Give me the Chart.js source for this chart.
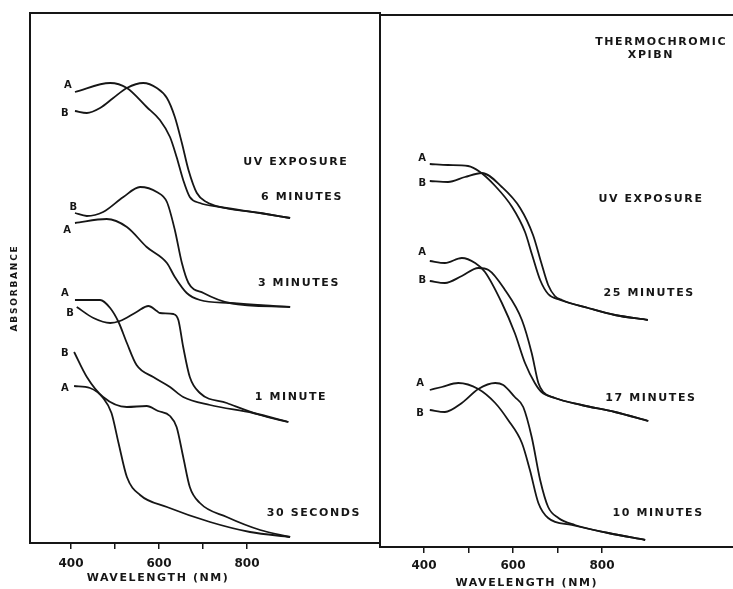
<!DOCTYPE html>
<html>
<head>
<meta charset="utf-8">
<script src="https://cdn.jsdelivr.net/npm/chart.js@4.4.0/dist/chart.umd.min.js"></script>
<style>
  html, body { margin: 0; padding: 0; background: #fff; }
  #wrap { position: relative; width: 733px; height: 589px; overflow: hidden; background: #fff; }
  canvas { position: absolute; top: 0; }
  #left { left: 0; }
  #right { left: 340px; }
</style>
</head>
<body>
<div id="wrap">
  <canvas id="left" width="400" height="589"></canvas>
  <canvas id="right" width="393" height="589"></canvas>
</div>
<script>
// --- Data: wavelength (nm) and absorbance (arbitrary, stacked offsets) ---
const xTicks = [400, 500, 600, 700, 800];
const xTickLabels = ['400', '', '600', '', '800'];

// left panel
const s30A_nm  = [407, 443, 473, 492, 508, 527, 557, 618, 716, 807, 898];
const s30A_abs = [1.57, 1.55, 1.45, 1.30, 1.00, 0.66, 0.48, 0.36, 0.21, 0.11, 0.06];
const s30B_nm  = [407, 436, 473, 527, 572, 598, 625, 640, 655, 670, 693, 754, 830, 898];
const s30B_abs = [1.91, 1.66, 1.46, 1.36, 1.37, 1.32, 1.27, 1.16, 0.86, 0.56, 0.40, 0.26, 0.13, 0.06];

const m1A_nm  = [409, 466, 489, 508, 527, 549, 587, 625, 655, 716, 814, 894];
const m1A_abs = [2.43, 2.43, 2.35, 2.21, 2.00, 1.78, 1.66, 1.56, 1.46, 1.38, 1.30, 1.21];
const m1B_nm  = [413, 451, 489, 511, 549, 576, 595, 602, 633, 644, 655, 670, 693, 754, 830, 894];
const m1B_abs = [2.36, 2.25, 2.20, 2.22, 2.31, 2.37, 2.32, 2.30, 2.29, 2.23, 1.96, 1.66, 1.50, 1.40, 1.28, 1.21];

const m3A_nm  = [409, 481, 527, 572, 618, 636, 663, 693, 761, 898];
const m3A_abs = [3.20, 3.24, 3.16, 2.96, 2.80, 2.66, 2.50, 2.43, 2.40, 2.36];
const m3B_nm  = [409, 436, 473, 519, 557, 595, 618, 636, 652, 667, 701, 761, 898];
const m3B_abs = [3.30, 3.27, 3.31, 3.46, 3.56, 3.51, 3.41, 3.13, 2.80, 2.60, 2.50, 2.40, 2.36];

const m6A_nm  = [409, 489, 527, 572, 602, 625, 640, 655, 670, 693, 739, 830, 898];
const m6A_abs = [4.51, 4.60, 4.55, 4.36, 4.23, 4.06, 3.86, 3.63, 3.46, 3.40, 3.36, 3.30, 3.25];
const m6B_nm  = [409, 436, 466, 496, 527, 564, 595, 618, 636, 652, 667, 686, 708, 739, 830, 898];
const m6B_abs = [4.32, 4.30, 4.35, 4.45, 4.55, 4.60, 4.55, 4.45, 4.26, 4.00, 3.73, 3.50, 3.41, 3.36, 3.30, 3.25];

// right panel
const m10A_nm  = [413, 440, 477, 522, 560, 589, 620, 638, 657, 679, 732, 814, 897];
const m10A_abs = [1.57, 1.60, 1.64, 1.58, 1.44, 1.27, 1.04, 0.77, 0.44, 0.29, 0.22, 0.14, 0.07];
const m10B_nm  = [413, 447, 485, 522, 560, 578, 604, 623, 642, 661, 679, 702, 739, 814, 897];
const m10B_abs = [1.37, 1.35, 1.44, 1.58, 1.64, 1.62, 1.50, 1.40, 1.10, 0.67, 0.40, 0.29, 0.22, 0.14, 0.07];

const m17A_nm  = [413, 447, 485, 515, 537, 575, 604, 627, 649, 664, 694, 754, 829, 904];
const m17A_abs = [2.86, 2.84, 2.89, 2.84, 2.75, 2.44, 2.14, 1.84, 1.64, 1.55, 1.49, 1.42, 1.35, 1.26];
const m17B_nm  = [413, 447, 485, 522, 545, 582, 620, 642, 657, 668, 694, 754, 829, 904];
const m17B_abs = [2.66, 2.64, 2.71, 2.79, 2.77, 2.57, 2.27, 1.94, 1.64, 1.55, 1.49, 1.42, 1.35, 1.26];

const m25A_nm  = [413, 454, 499, 526, 560, 598, 627, 643, 661, 679, 706, 769, 829, 903];
const m25A_abs = [3.83, 3.82, 3.81, 3.75, 3.61, 3.40, 3.15, 2.92, 2.67, 2.53, 2.47, 2.39, 2.32, 2.27];
const m25B_nm  = [413, 454, 492, 530, 575, 616, 645, 663, 679, 694, 710, 769, 829, 903];
const m25B_abs = [3.66, 3.65, 3.70, 3.74, 3.60, 3.39, 3.12, 2.85, 2.62, 2.51, 2.47, 2.39, 2.32, 2.27];

// --- Text labels (placed in data units) ---
const leftNotes = [
  { t: 'UV EXPOSURE', x: 911, y: 3.81 },
  { t: '6 MINUTES', x: 925, y: 3.46 },
  { t: '3 MINUTES', x: 918, y: 2.60 },
  { t: '1 MINUTE', x: 900, y: 1.46 },
  { t: '30 SECONDS', x: 952, y: 0.30 },
  { t: 'A', x: 393, y: 4.58, small: true }, { t: 'B', x: 386, y: 4.30, small: true },
  { t: 'B', x: 405, y: 3.36, small: true }, { t: 'A', x: 391, y: 3.13, small: true },
  { t: 'A', x: 386, y: 2.50, small: true }, { t: 'B', x: 398, y: 2.30, small: true },
  { t: 'B', x: 386, y: 1.90, small: true }, { t: 'A', x: 386, y: 1.55, small: true },
  { t: 'WAVELENGTH (NM)', x: 598, y: -0.35 },
  { t: 'ABSORBANCE', x: 273, y: 2.55, rot: true }
];
const rightNotes = [
  { t: 'THERMOCHROMIC', x: 933, y: 5.05 },
  { t: 'XPIBN', x: 910, y: 4.92 },
  { t: 'UV EXPOSURE', x: 910, y: 3.48 },
  { t: '25 MINUTES', x: 906, y: 2.54 },
  { t: '17 MINUTES', x: 910, y: 1.49 },
  { t: '10 MINUTES', x: 926, y: 0.34 },
  { t: 'A', x: 396, y: 3.89, small: true }, { t: 'B', x: 396, y: 3.64, small: true },
  { t: 'A', x: 396, y: 2.95, small: true }, { t: 'B', x: 396, y: 2.67, small: true },
  { t: 'A', x: 391, y: 1.64, small: true }, { t: 'B', x: 391, y: 1.34, small: true },
  { t: 'WAVELENGTH (NM)', x: 631, y: -0.36 }
];

const INK = '#161616';
const FONT = '"DejaVu Sans", sans-serif';

function curve(nm, abs) {
  return {
    data: nm.map((x, i) => ({ x: x, y: abs[i] })),
    borderColor: INK,
    borderWidth: 1.8,
    pointRadius: 0,
    fill: false,
    cubicInterpolationMode: 'monotone'
  };
}

// frame + text drawn after the datasets
const panelDecor = {
  id: 'panelDecor',
  afterDraw(chart, args, opts) {
    const { ctx, chartArea: a, scales } = chart;
    ctx.save();
    ctx.strokeStyle = INK;
    ctx.lineWidth = 2;
    ctx.beginPath();
    if (opts.closed) {
      ctx.rect(a.left, a.top, a.right - a.left, a.bottom - a.top);
    } else {
      ctx.moveTo(a.right + 2, a.top);
      ctx.lineTo(a.left, a.top);
      ctx.lineTo(a.left, a.bottom);
      ctx.lineTo(a.right + 2, a.bottom);
    }
    ctx.stroke();

    ctx.fillStyle = INK;
    ctx.textAlign = 'center';
    ctx.textBaseline = 'middle';
    opts.notes.forEach(n => {
      const px = scales.x.getPixelForValue(n.x);
      const py = scales.y.getPixelForValue(n.y);
      ctx.font = n.small ? 'bold 10px ' + FONT : 'bold 11px ' + FONT;
      ctx.letterSpacing = n.small ? '0px' : '1.6px';
      if (n.rot) {
        ctx.save();
        ctx.translate(px, py);
        ctx.rotate(-Math.PI / 2);
        ctx.font = 'bold 9px ' + FONT;
        ctx.letterSpacing = '1.8px';
        ctx.fillText(n.t, 0, 0);
        ctx.restore();
      } else {
        ctx.fillText(n.t, px, py);
      }
    });
    ctx.restore();
  }
};

function makePanel(id, datasets, xMin, xMax, yMax, padding, axisH, tickPad, notes, closed) {
  return new Chart(document.getElementById(id), {
    type: 'line',
    data: { datasets: datasets },
    options: {
      responsive: false,
      animation: false,
      layout: { padding: padding },
      plugins: {
        legend: { display: false },
        tooltip: { enabled: false },
        panelDecor: { notes: notes, closed: closed }
      },
      scales: {
        x: {
          type: 'linear',
          min: xMin,
          max: xMax,
          afterBuildTicks: s => { s.ticks = xTicks.map(v => ({ value: v })); },
          afterFit: s => { s.height = axisH; },
          border: { display: false },
          grid: { drawOnChartArea: false, drawTicks: true, tickLength: 6, color: INK, lineWidth: 1.5 },
          ticks: {
            color: INK,
            padding: tickPad,
            maxRotation: 0,
            autoSkip: false,
            font: { family: 'DejaVu Sans', size: 12, weight: 'bold' },
            callback: v => xTickLabels[xTicks.indexOf(v)] || ''
          }
        },
        y: { display: false, min: 0, max: yMax }
      }
    },
    plugins: [panelDecor]
  });
}

makePanel('left', [
  curve(m6A_nm, m6A_abs), curve(m6B_nm, m6B_abs),
  curve(m3A_nm, m3A_abs), curve(m3B_nm, m3B_abs),
  curve(m1A_nm, m1A_abs), curve(m1B_nm, m1B_abs),
  curve(s30A_nm, s30A_abs), curve(s30B_nm, s30B_abs)
], 306.8, 1102.3, 5.30, { left: 30, right: 20, top: 13, bottom: 0 }, 46, 8, leftNotes, true);

makePanel('right', [
  curve(m25A_nm, m25A_abs), curve(m25B_nm, m25B_abs),
  curve(m17A_nm, m17A_abs), curve(m17B_nm, m17B_abs),
  curve(m10A_nm, m10A_abs), curve(m10B_nm, m10B_abs)
], 301.1, 1094.4, 5.32, { left: 40, right: 0, top: 15, bottom: 0 }, 42, 6, rightNotes, false);
</script>
</body>
</html>
